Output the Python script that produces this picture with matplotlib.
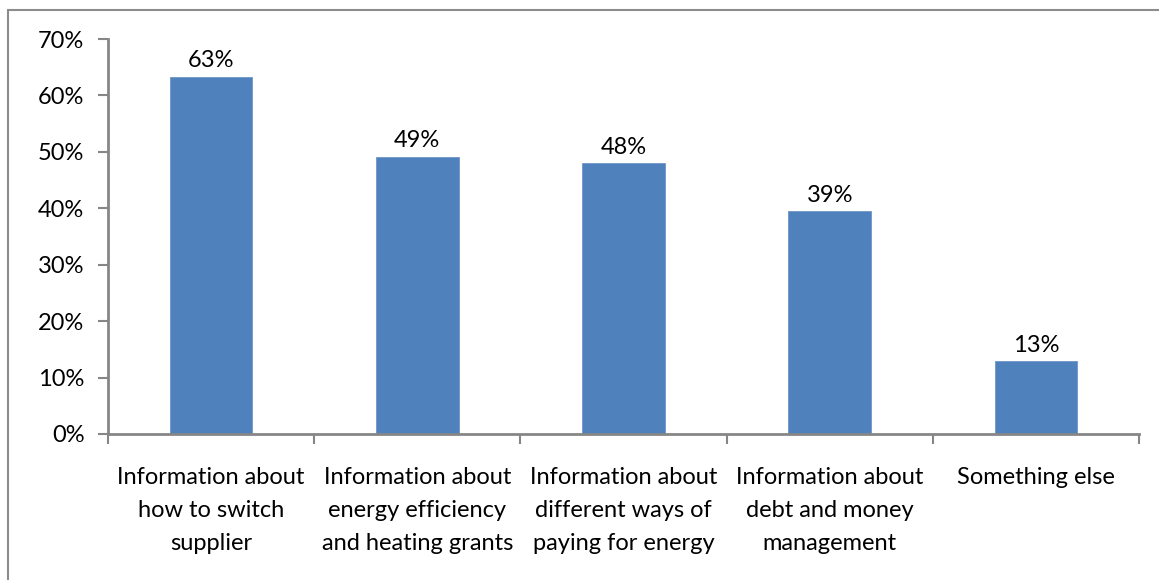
import matplotlib.pyplot as plt
from matplotlib.patches import Rectangle
from matplotlib.ticker import FixedLocator, NullFormatter
import numpy as np

plt.rcParams['font.family'] = ['Lato', 'DejaVu Sans']

categories = ['Information about\nhow to switch\nsupplier',
              'Information about\nenergy efficiency\nand heating grants',
              'Information about\ndifferent ways of\npaying for energy',
              'Information about\ndebt and money\nmanagement',
              'Something else']
values = [63.3, 49.1, 48.0, 39.45, 12.9]
value_labels = ['63%', '49%', '48%', '39%', '13%']

bar_color = '#4F81BD'
axis_color = '#868686'

fig = plt.figure(figsize=(11.59, 5.80), dpi=100)
ax = fig.add_axes([108/1159, 1 - 434/580, (1139 - 108)/1159, (434 - 39)/580])

x = np.arange(len(values))
ax.bar(x, values, width=0.4, color=bar_color, edgecolor='#6f95c8', linewidth=0.6)

for xi, v, lab in zip(x, values, value_labels):
    ax.text(xi, v + 1.0, lab, ha='center', va='bottom', fontsize=17, color='black')

ax.set_xlim(-0.5, len(values) - 0.5)
ax.set_ylim(0, 70)
ax.set_yticks(np.arange(0, 71, 10))
ax.set_yticklabels([f'{t}%' for t in range(0, 71, 10)], fontsize=17)

# category boundary ticks
ax.xaxis.set_major_locator(FixedLocator(np.arange(-0.5, len(values), 1.0)))
ax.xaxis.set_major_formatter(NullFormatter())
ax.xaxis.set_minor_locator(FixedLocator(x))
ax.set_xticklabels(categories, minor=True, fontsize=17, linespacing=1.7)
ax.tick_params(axis='x', which='minor', length=0, pad=24)
ax.tick_params(axis='x', which='major', length=7, width=1.5, color=axis_color, direction='out')
ax.tick_params(axis='y', length=7, width=1.5, color=axis_color, direction='out', pad=10)

for s in ['top', 'right']:
    ax.spines[s].set_visible(False)
for s in ['left', 'bottom']:
    ax.spines[s].set_color(axis_color)
    ax.spines[s].set_linewidth(2)

# chart area border
fig.patches.append(Rectangle((8/1159, -0.1), 1.1, 1 - 10/580 + 0.1, transform=fig.transFigure,
                             fill=False, edgecolor='#8c8c8c', linewidth=1.5))

fig.savefig('out.png', dpi=100)
